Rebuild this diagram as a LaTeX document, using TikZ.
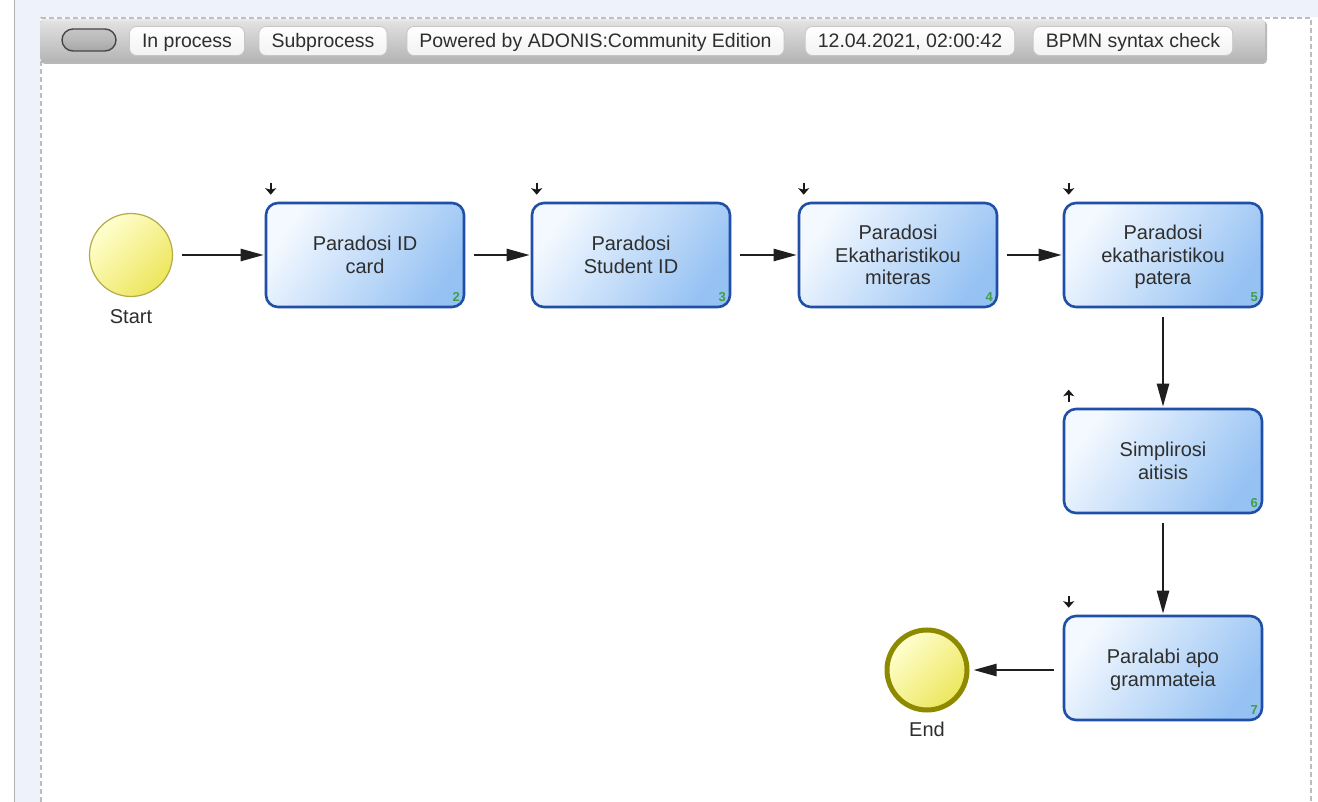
\documentclass[tikz,border=0pt]{standalone}
\usepackage{fontspec}
\setmainfont{Liberation Sans}
\usetikzlibrary{arrows.meta,shapes.misc}

\definecolor{taskborder}{HTML}{1F4FA6}
\definecolor{tasklight}{HTML}{F4F9FF}
\definecolor{taskdark}{HTML}{96C2F3}
\definecolor{txt}{HTML}{2E2E2E}
\definecolor{numgreen}{HTML}{3E9E4A}
\definecolor{startlight}{HTML}{FFFFCF}
\definecolor{startdark}{HTML}{EDE65C}
\definecolor{startborder}{HTML}{B3AB4A}
\definecolor{endborder}{HTML}{8E8A00}
\definecolor{sideblue}{HTML}{EEF3FB}
\definecolor{canvasline}{HTML}{BDBDBD}
\definecolor{barlight}{HTML}{E4E4E4}
\definecolor{bardark}{HTML}{B4B4B4}

\tikzset{
  task/.style={draw=taskborder, line width=2.6pt, rounded corners=12pt,
    minimum width=198pt, minimum height=104pt, inner sep=0pt,
    left color=tasklight, right color=taskdark, shading angle=55,
    align=center, text=txt, font=\fontsize{20}{22.5}\selectfont,
    text depth=-5pt},
  evt/.style={circle, inner sep=0pt, minimum size=83pt,
    left color=startlight, right color=startdark, shading angle=45},
  startevt/.style={evt, draw=startborder, line width=1.2pt},
  endevt/.style={evt, draw=endborder, line width=5pt, minimum size=80pt},
  lbl/.style={text=txt, font=\fontsize{20}{22}\selectfont, inner sep=0pt},
  num/.style={text=numgreen, font=\fontsize{13}{13}\selectfont\bfseries, inner sep=0pt},
  flow/.style={draw=black!88, line width=2.4pt,
    -{Triangle[length=23pt,width=12pt]}, shorten <=9pt, shorten >=1pt},
  marker/.style={draw=black!90, line width=2.4pt,
    -{Stealth[length=6.5pt,width=11pt,inset=1.5pt]}},
  hbtn/.style={draw=gray!45, line width=0.8pt, rounded corners=7pt,
    top color=white, bottom color=gray!10, minimum height=29pt,
    inner xsep=12.5pt, inner ysep=0pt, text height=14pt, text depth=0pt,
    text=txt, font=\fontsize{19.5}{20}\selectfont}
}

\begin{document}
\begin{tikzpicture}[x=1pt,y=-1pt]
\useasboundingbox (0,0) rectangle (1318,802);

% surroundings of the modelling canvas
\fill[white] (0,0) rectangle (1318,802);
\fill[sideblue] (15,0) rectangle (40,802);
\fill[sideblue] (15,0) rectangle (1318,17);
\draw[gray!60, line width=1pt] (14.5,0) -- (14.5,802);
\draw[canvasline, line width=1.3pt, dash pattern=on 5pt off 3pt]
  (41,802) -- (41,18) -- (1311,18) -- (1311,802);

% toolbar
\fill[gray!55, rounded corners=4pt] (41,21) rectangle (1267,64);
\shade[top color=barlight, bottom color=bardark, rounded corners=4pt]
  (40,19) rectangle (1265,62);
\draw[white!92!black, line width=0.8pt] (44,20) -- (1261,20);
\node[draw=gray!55!black, line width=1.4pt, rounded rectangle,
  minimum width=54pt, minimum height=22pt, inner sep=0pt,
  top color=gray!45, bottom color=gray!70, middle color=gray!55] (pill) at (89,40) {};
\node[hbtn] (b1) at (187,41) {In process};
\node[hbtn] (b2) at (323,41) {Subprocess};
\node[hbtn] (b3) at (595.5,41) {Powered by ADONIS:Community Edition};
\node[hbtn] (b4) at (910,41) {12.04.2021, 02:00:42};
\node[hbtn] (b5) at (1133,41) {BPMN syntax check};

% events
\node[startevt] (start) at (131,255) {};
\node[lbl] (startlbl) at (131,317) {Start};
\node[endevt] (end) at (927,670) {};
\node[lbl] (endlbl) at (927,729) {End};

% tasks
\node[task] (t1) at (365,255) {Paradosi ID\\card};
\node[task] (t2) at (631,255) {Paradosi\\Student ID};
\node[task] (t3) at (898,255) {Paradosi\\Ekatharistikou\\miteras};
\node[task] (t4) at (1163,255) {Paradosi\\ekatharistikou\\patera};
\node[task] (t5) at (1163,461) {Simplirosi\\aitisis};
\node[task] (t6) at (1163,668) {Paralabi apo\\grammateia};

% task numbers
\foreach \t/\n in {t1/2,t2/3,t3/4,t4/5,t5/6,t6/7}
  \node[num] (\t num) at ([shift={(-9,-11)}]\t.south east) {\n};

% small direction markers above the tasks
\foreach \t in {t1,t2,t3,t4,t6}
  \draw[marker] ([shift={(6,-19)}]\t.north west) -- ++(0,12);
\draw[marker] ([shift={(6,-6)}]t5.north west) -- ++(0,-12);

% sequence flows
\draw[flow] (start) -- (t1);
\draw[flow] (t1) -- (t2);
\draw[flow] (t2) -- (t3);
\draw[flow] (t3) -- (t4);
\draw[flow] (t4) -- (t5);
\draw[flow] (t5) -- (t6);
\draw[flow, shorten >=4pt] (t6.west |- end) -- (end);
\end{tikzpicture}
\end{document}
